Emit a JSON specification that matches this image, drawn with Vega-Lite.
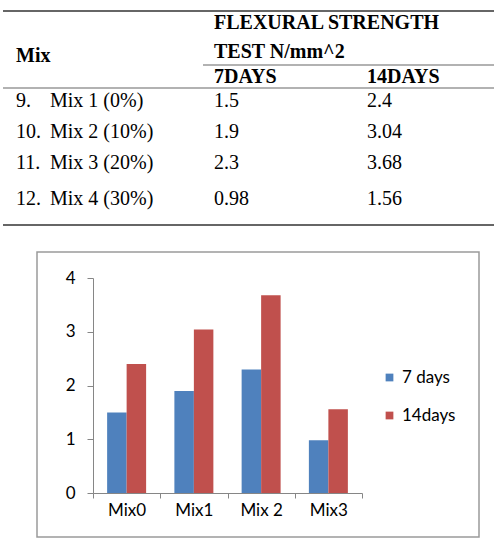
{
  "$schema": "https://vega.github.io/schema/vega-lite/v6.json",
  "padding": 0,
  "background": "white",
  "spacing": 10,
  "config": {"font": "Lato"},
  "datasets": {
    "cells": [
      {"row": 1, "col": 4, "text": "FLEXURAL STRENGTH", "head": true},
      {"row": 2, "col": 1, "text": "Mix", "head": true},
      {"row": 1.9, "col": 4, "text": "TEST N/mm^2", "head": true},
      {"row": 3, "col": 4, "text": "7DAYS", "head": true},
      {"row": 3, "col": 5, "text": "14DAYS", "head": true},
      {"row": 4, "col": 1, "text": "9.", "head": false},
      {"row": 4, "col": 2, "text": "Mix 1 (0%)", "head": false},
      {"row": 4, "col": 4, "text": "1.5", "head": false},
      {"row": 4, "col": 5, "text": "2.4", "head": false},
      {"row": 5, "col": 1, "text": "10.", "head": false},
      {"row": 5, "col": 2, "text": "Mix 2 (10%)", "head": false},
      {"row": 5, "col": 4, "text": "1.9", "head": false},
      {"row": 5, "col": 5, "text": "3.04", "head": false},
      {"row": 6, "col": 1, "text": "11.", "head": false},
      {"row": 6, "col": 2, "text": "Mix 3 (20%)", "head": false},
      {"row": 6, "col": 4, "text": "2.3", "head": false},
      {"row": 6, "col": 5, "text": "3.68", "head": false},
      {"row": 7, "col": 1, "text": "12.", "head": false},
      {"row": 7, "col": 2, "text": "Mix 4 (30%)", "head": false},
      {"row": 7, "col": 4, "text": "0.98", "head": false},
      {"row": 7, "col": 5, "text": "1.56", "head": false}
    ],
    "rules": [
      {"row": 0, "from": 0, "to": 6, "kind": "outer"},
      {"row": 2.5, "from": 3, "to": 6, "kind": "inner"},
      {"row": 3.5, "from": 0, "to": 6, "kind": "inner"},
      {"row": 8, "from": 0, "to": 6, "kind": "outer"}
    ],
    "bars": [
      {"mix": "Mix0", "series": "7 days", "value": 1.5},
      {"mix": "Mix0", "series": "14days", "value": 2.4},
      {"mix": "Mix1", "series": "7 days", "value": 1.9},
      {"mix": "Mix1", "series": "14days", "value": 3.04},
      {"mix": "Mix 2", "series": "7 days", "value": 2.3},
      {"mix": "Mix 2", "series": "14days", "value": 3.68},
      {"mix": "Mix3", "series": "7 days", "value": 0.98},
      {"mix": "Mix3", "series": "14days", "value": 1.56}
    ]
  },
  "vconcat": [
    {
      "width": 494,
      "height": 241,
      "view": {"stroke": null},
      "layer": [
        {
          "data": {"name": "rules"},
          "mark": {"type": "rule", "color": "#666666"},
          "encoding": {
            "x": {"field": "from", "type": "quantitative", "axis": null,
                  "scale": {"domain": [0, 1, 2, 3, 4, 5, 6], "range": [3, 16, 50, 203, 214, 367, 494], "nice": false, "zero": false}},
            "x2": {"field": "to"},
            "y": {"field": "row", "type": "quantitative", "axis": null,
                  "scale": {"domain": [0, 1, 1.9, 2, 2.5, 3, 3.5, 4, 5, 6, 7, 8], "range": [11, 23, 52, 56, 65, 77, 88, 101, 132, 163, 199, 225], "nice": false, "zero": false}},
            "strokeWidth": {"field": "kind", "type": "nominal", "legend": null,
                            "scale": {"domain": ["outer", "inner"], "range": [2, 1.2]}}
          }
        },
        {
          "data": {"name": "cells"},
          "transform": [{"filter": "datum.head"}],
          "mark": {"type": "text", "align": "left", "baseline": "middle", "font": "Liberation Serif", "fontSize": 20, "fontWeight": "bold", "color": "black"},
          "encoding": {
            "x": {"field": "col", "type": "quantitative"},
            "y": {"field": "row", "type": "quantitative"},
            "text": {"field": "text"}
          }
        },
        {
          "data": {"name": "cells"},
          "transform": [{"filter": "!datum.head"}],
          "mark": {"type": "text", "align": "left", "baseline": "middle", "font": "Liberation Serif", "fontSize": 20, "color": "black"},
          "encoding": {
            "x": {"field": "col", "type": "quantitative"},
            "y": {"field": "row", "type": "quantitative"},
            "text": {"field": "text"}
          }
        }
      ]
    },
    {
      "spacing": 35,
      "hconcat": [
        {
          "width": 1,
          "height": 285,
          "view": {"stroke": null},
          "data": {"values": [{"a": 1}]},
          "mark": {"type": "text"},
          "encoding": {"text": {"value": ""}}
        },
        {
          "width": 442,
          "height": 285,
          "view": {"stroke": "#9a9a9a", "strokeWidth": 1.5},
          "data": {"name": "bars"},
          "mark": {"type": "bar"},
          "encoding": {
            "x": {
              "field": "mix", "type": "nominal", "sort": null, "title": null,
              "scale": {"range": [56, 325], "paddingInner": 0, "paddingOuter": 0},
              "axis": {"orient": "bottom", "offset": -44, "labelAngle": 0, "labelFont": "Lato", "labelFontSize": 17, "labelColor": "black",
                       "domainColor": "#868686", "tickColor": "#868686", "tickSize": 5, "tickBand": "extent", "labelPadding": 4}
            },
            "xOffset": {"field": "series", "type": "nominal", "sort": ["7 days", "14days"],
                        "scale": {"paddingInner": 0, "paddingOuter": 0.725}},
            "y": {
              "field": "value", "type": "quantitative", "title": null,
              "scale": {"domain": [0, 4], "range": [241, 26], "nice": false},
              "axis": {"orient": "left", "offset": -56, "values": [0, 1, 2, 3, 4], "grid": false, "labelFont": "Lato", "labelFontSize": 17, "labelColor": "black",
                       "domainColor": "#868686", "tickColor": "#868686", "tickSize": 6, "labelPadding": 12}
            },
            "color": {
              "field": "series", "type": "nominal",
              "scale": {"domain": ["7 days", "14days"], "range": ["#4F81BD", "#C0504D"]},
              "legend": {"orient": "none", "legendX": 381, "legendY": 369, "title": null, "symbolType": "square", "symbolSize": 60,
                         "symbolStrokeWidth": 0, "labelFont": "Lato", "labelFontSize": 17, "labelColor": "black", "labelOffset": 4, "rowPadding": 20, "padding": 0}
            }
          }
        }
      ]
    }
  ]
}
